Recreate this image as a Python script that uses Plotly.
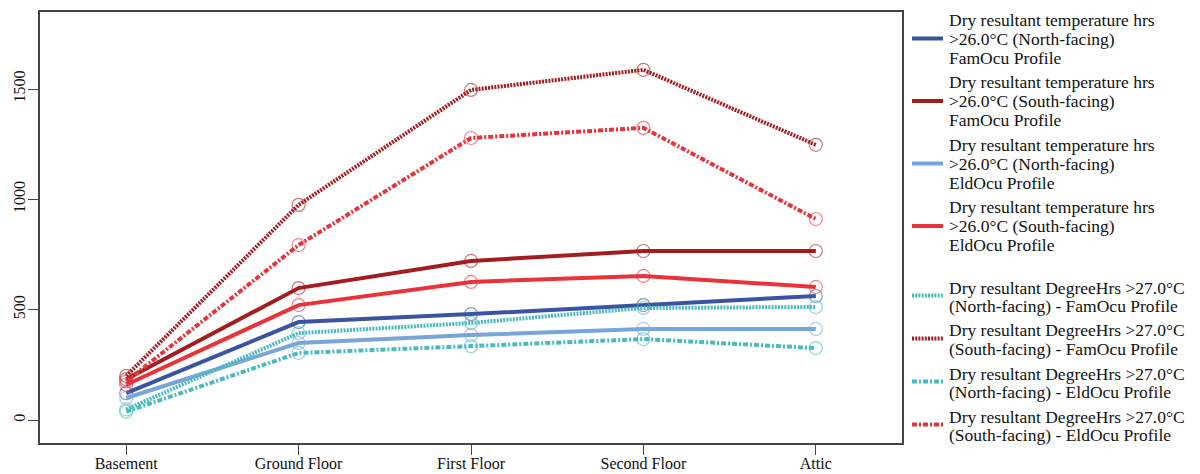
import plotly.graph_objects as go

# Floors on the x axis
floors = ["Basement", "Ground Floor", "First Floor", "Second Floor", "Attic"]

# Dry resultant temperature hours above 26.0 °C
n_fam_hrs = [122, 444, 480, 521, 562]
s_fam_hrs = [185, 598, 721, 766, 766]
n_eld_hrs = [100, 349, 385, 413, 413]
s_eld_hrs = [160, 521, 626, 653, 603]

# Dry resultant degree hours above 27.0 °C
n_fam_dh = [48, 394, 440, 508, 512]
s_fam_dh = [200, 975, 1496, 1587, 1247]
n_eld_dh = [38, 304, 335, 367, 326]
s_eld_dh = [175, 793, 1278, 1324, 911]

y_ticks = [0, 500, 1000, 1500]

DARK_BLUE = "#3a54a3"
DARK_RED = "#a51c20"
LIGHT_BLUE = "#78a6d9"
RED = "#e8333b"
TEAL = "#48bac0"

DOT = "2px,1.2px"
DASHDOT = "5px,2px,2px,2px"

FONT = "Liberation Serif, Times New Roman, serif"

series = [
    (["Dry resultant temperature hrs", ">26.0°C (North-facing)", "FamOcu Profile"], n_fam_hrs, DARK_BLUE, "solid"),
    (["Dry resultant temperature hrs", ">26.0°C (South-facing)", "FamOcu Profile"], s_fam_hrs, DARK_RED, "solid"),
    (["Dry resultant temperature hrs", ">26.0°C (North-facing)", "EldOcu Profile"], n_eld_hrs, LIGHT_BLUE, "solid"),
    (["Dry resultant temperature hrs", ">26.0°C (South-facing)", "EldOcu Profile"], s_eld_hrs, RED, "solid"),
    (["Dry resultant DegreeHrs >27.0°C", "(North-facing) - FamOcu Profile"], n_fam_dh, TEAL, DOT),
    (["Dry resultant DegreeHrs >27.0°C", "(South-facing) - FamOcu Profile"], s_fam_dh, DARK_RED, DOT),
    (["Dry resultant DegreeHrs >27.0°C", "(North-facing) - EldOcu Profile"], n_eld_dh, TEAL, DASHDOT),
    (["Dry resultant DegreeHrs >27.0°C", "(South-facing) - EldOcu Profile"], s_eld_dh, RED, DASHDOT),
]


def faded(hex_color, alpha=0.6):
    h = hex_color.lstrip("#")
    r, g, b = int(h[0:2], 16), int(h[2:4], 16), int(h[4:6], 16)
    return f"rgba({r},{g},{b},{alpha})"


fig = go.Figure()
for lines, values, color, dash in series:
    fig.add_trace(go.Scatter(
        x=floors, y=values, name=" ".join(lines),
        mode="lines+markers",
        line=dict(color=color, width=4, dash=dash),
        marker=dict(symbol="circle-open", size=13, color=faded(color),
                    line=dict(width=1.2, color=faded(color))),
        showlegend=False,
    ))

# Figure geometry (pixels)
W, H = 1200, 474
L, R, T, B = 40, 902, 12, 443


def px_x(px):
    return (px - L) / (R - L)


def px_y(py):
    return (B - py) / (B - T)


# Hand-built key to the right of the plot box
annotations = []
shapes = []
for i, (lines, values, color, dash) in enumerate(series):
    step = 18.8
    if i < 4:
        first = 20 + 62.5 * i
        sample_y = first + 18.5
    else:
        first = 287.5 + 43 * (i - 4)
        sample_y = first + 8
    for j, txt in enumerate(lines):
        annotations.append(dict(
            x=px_x(947), y=px_y(first + step * j), xref="paper", yref="paper",
            text=txt, showarrow=False, xanchor="left", yanchor="middle",
            font=dict(family=FONT, size=17.5, color="#111"),
        ))
    shapes.append(dict(
        type="line", xref="paper", yref="paper",
        x0=px_x(912), x1=px_x(943), y0=px_y(sample_y), y1=px_y(sample_y),
        line=dict(color=color, width=4, dash=dash),
    ))

fig.update_layout(
    width=W, height=H,
    margin=dict(l=L, r=W - R, t=T, b=H - B),
    paper_bgcolor="white", plot_bgcolor="white",
    font=dict(family=FONT, size=16, color="#111"),
    annotations=annotations, shapes=shapes,
)
fig.update_xaxes(
    range=[-0.5, 4.5], showgrid=False, zeroline=False, automargin=False,
    showline=True, mirror=True, linecolor="#444", linewidth=1.5,
    ticks="outside", ticklen=10, tickcolor="#444", tickwidth=1.2,
    ticklabelstandoff=-5,
    tickfont=dict(family=FONT, size=16, color="#111"),
)
fig.update_yaxes(
    range=[-104, 1849], showgrid=False, zeroline=False, automargin=False,
    showline=True, mirror=True, linecolor="#444", linewidth=1.5,
    ticks="outside", ticklen=10, tickcolor="#444", tickwidth=1.2,
    ticklabelstandoff=-3,
    tickvals=y_ticks, ticktext=[str(v) for v in y_ticks], tickangle=-90,
    tickfont=dict(family=FONT, size=16, color="#111"),
)

fig.write_html("out.html")
